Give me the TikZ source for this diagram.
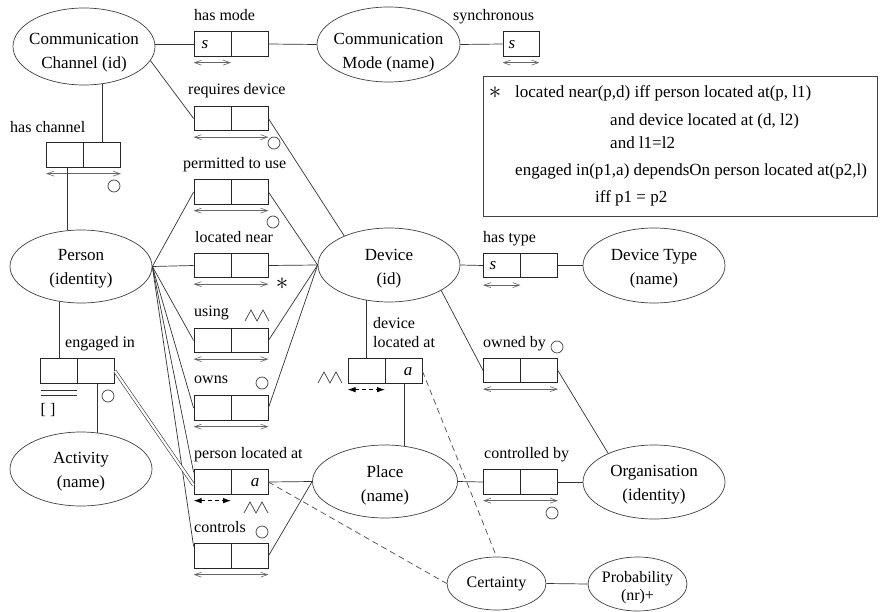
\documentclass[tikz,border=0pt]{standalone}
\usepackage{fontspec}
\setmainfont{Liberation Serif}
\usetikzlibrary{shapes.geometric,arrows.meta,calc}

\begin{document}
\begin{tikzpicture}[x=1pt,y=-1pt,
  ent/.style={ellipse,draw=black!75,line width=0.7pt,inner sep=0pt},
  enttxt/.style={inner sep=0pt,align=center,font=\fontsize{17}{24}\selectfont},
  smalltxt/.style={inner sep=0pt,align=center,font=\fontsize{16}{18}\selectfont},
  relbox/.style={draw=black!85,line width=0.8pt,minimum width=74pt,minimum height=24.5pt,inner sep=0pt,
     path picture={\draw[black!85,line width=0.8pt] (path picture bounding box.north) -- (path picture bounding box.south);}},
  unibox/.style={draw=black!85,line width=0.8pt,minimum width=36pt,minimum height=24.5pt,inner sep=0pt},
  lbl/.style={anchor=west,inner sep=0pt,text height=11pt,text depth=0pt,font=\fontsize{16}{19}\selectfont},
  lbltwo/.style={anchor=west,inner sep=0pt,align=left,font=\fontsize{16}{19}\selectfont},
  ctxt/.style={anchor=west,inner sep=0pt,text height=11.5pt,text depth=0pt,font=\fontsize{17}{20}\selectfont},
  celltxt/.style={inner sep=0pt,font=\fontsize{17}{20}\selectfont\itshape},
  ring/.style={circle,draw=black!75,line width=0.7pt,minimum size=12pt,inner sep=0pt},
  startxt/.style={inner sep=0pt,font=\fontsize{27}{27}\selectfont},
  conn/.style={draw=black!80,line width=0.7pt},
  dconn/.style={draw=black!70,line width=0.7pt,dash pattern=on 6pt off 4pt},
  dbl/.style={draw=black!80,line width=0.6pt,double,double distance=2.2pt},
  uarr/.style={draw=black!60,line width=0.6pt,{Straight Barb[length=7pt,width=5pt]}-{Straight Barb[length=7pt,width=5pt]}},
  darr/.style={draw=black,line width=0.8pt,dash pattern=on 4pt off 3pt,{Latex[length=8pt,width=5.5pt]}-{Latex[length=8pt,width=5.5pt]}},
  zz/.pic={\draw[black!75,line width=0.7pt] (0,0) -- (6,-11) -- (12,0) -- (18,-11) -- (24,0);}
]
\useasboundingbox (0,0) rectangle (880,612);
\fill[white] (0,0) rectangle (880,612);

% entity types
\node[ent,minimum width=142pt,minimum height=77pt] (cc) at (84,46.5) {};
\node[enttxt] (cc-t) at (84,52.6) {Communication\\Channel (id)};
\node[ent,minimum width=143pt,minimum height=75pt] (cm) at (388.5,44.5) {};
\node[enttxt] (cm-t) at (388.5,52.6) {Communication\\Mode (name)};
\node[ent,minimum width=142pt,minimum height=73pt] (person) at (81,266.5) {};
\node[enttxt] (person-t) at (81,269) {Person\\(identity)};
\node[ent,minimum width=142pt,minimum height=74pt] (dev) at (389,265) {};
\node[enttxt] (dev-t) at (389,269) {Device\\(id)};
\node[ent,minimum width=142pt,minimum height=75pt] (dt) at (654,265.5) {};
\node[enttxt] (dt-t) at (654,269) {Device Type\\(name)};
\node[ent,minimum width=142pt,minimum height=74pt] (act) at (81,469) {};
\node[enttxt] (act-t) at (81,471.6) {Activity\\(name)};
\node[ent,minimum width=145pt,minimum height=73pt] (place) at (385,481.5) {};
\node[enttxt] (place-t) at (385,485) {Place\\(name)};
\node[ent,minimum width=142pt,minimum height=74pt] (org) at (654,482) {};
\node[enttxt] (org-t) at (654,485) {Organisation\\(identity)};
\node[ent,minimum width=99pt,minimum height=53pt] (cert) at (496.5,583.5) {};
\node[smalltxt] (cert-t) at (496.5,584) {Certainty};
\node[ent,minimum width=99pt,minimum height=54pt] (prob) at (637.5,584) {};
\node[smalltxt] (prob-t) at (637.5,587.7) {Probability\\(nr)+};

% fact types
\node[relbox] (hm) at (231,44) {};
\node[unibox] (sy) at (521,44) {};
\node[relbox] (rd) at (231,118.5) {};
\node[relbox] (hc) at (83.5,155) {};
\node[relbox] (pu) at (231,192) {};
\node[relbox] (ln) at (231,265.5) {};
\node[relbox] (us) at (231,340.5) {};
\node[relbox] (ow) at (231,408) {};
\node[relbox] (pl) at (231,482) {};
\node[relbox] (co) at (231,556) {};
\node[relbox] (ei) at (77.5,371) {};
\node[relbox] (dl) at (385,371) {};
\node[relbox] (ht) at (520.5,265.5) {};
\node[relbox] (ob) at (520.5,370.5) {};
\node[relbox] (cb) at (520.5,482) {};

% fact type readings
\node[lbl] (l-hm) at (194,15) {has mode};
\node[lbl] (l-sy) at (453,15) {synchronous};
\node[lbl] (l-rd) at (188,89) {requires device};
\node[lbl] (l-hc) at (10,127) {has channel};
\node[lbl] (l-pu) at (183,163) {permitted to use};
\node[lbl] (l-ln) at (195,237) {located near};
\node[lbl] (l-us) at (194,311) {using};
\node[lbl] (l-ow) at (194,378) {owns};
\node[lbl] (l-pl) at (194,453) {person located at};
\node[lbl] (l-co) at (194,527) {controls};
\node[lbl] (l-ei) at (65,342) {engaged in};
\node[lbltwo] (l-dl) at (373,332.5) {device\\located at};
\node[lbl] (l-ht) at (483,237) {has type};
\node[lbl] (l-ob) at (483,342) {owned by};
\node[lbl] (l-cb) at (484,453) {controlled by};

% role contents
\node[celltxt] (s-hm) at (205,45) {s};
\node[celltxt] (s-sy) at (512,45) {s};
\node[celltxt] (s-ht) at (493,266) {s};
\node[celltxt] (a-pl) at (255,483) {a};
\node[celltxt] (a-dl) at (408,372) {a};

% uniqueness constraints
\draw[uarr] ($(hm.south west)+(0,6)$) -- ($(hm.south)+(0,6)$);
\draw[uarr] ($(sy.south west)+(0,6)$) -- ($(sy.south east)+(0,6)$);
\draw[uarr] ($(ht.south west)+(0,7)$) -- ($(ht.south)+(0,7)$);
\foreach \b in {rd,hc,pu,ln,us,ow,co,ob,cb}
  \draw[uarr] ($(\b.south west)+(0,6)$) -- ($(\b.south east)+(0,6)$);
\draw[darr] ($(pl.south west)+(0,6)$) -- ($(pl.south)+(0,6)$);
\draw[darr] ($(dl.south west)+(0,6)$) -- ($(dl.south)+(0,6)$);

% other constraint marks
\node[ring] (o-rd) at (274,143) {};
\node[ring] (o-hc) at (114,186) {};
\node[ring] (o-pu) at (273,222) {};
\node[ring] (o-ow) at (262,383) {};
\node[ring] (o-co) at (262,532) {};
\node[ring] (o-ei) at (108,396) {};
\node[ring] (o-ob) at (557,347) {};
\node[ring] (o-cb) at (552,513) {};
\node[startxt] (st-ln) at (282,284) {$\ast$};
\pic at (245,321) {zz};
\pic at (244,513) {zz};
\pic at (318,383) {zz};
\draw[black!80,line width=0.7pt] (41,390) -- (77,390) (41,395) -- (77,395);
\node[inner sep=0pt,font=\fontsize{16}{19}\selectfont] (br-ei) at (48,410) {[ ]};

% connectors
\draw[conn] (hm.west -| cc.east) -- (hm.west);
\draw[conn] (hm.east) -- (cm.west);
\draw[conn] (cm.east) -- (sy.west);
\draw[conn] (cc.-12) -- (rd.west);
\draw[conn] (rd.east) -- (dev.147);
\draw[conn] (cc.-64) -- (cc.-64 |- hc.north);
\draw[conn] (person.111) -- (person.111 |- hc.south);
\draw[conn] (person.east) -- (pu.west);
\draw[conn] (person.east) -- (ln.west);
\draw[conn] (person.east) -- (us.west);
\draw[conn] (person.east) -- (ow.west);
\draw[conn] (person.east) -- ($(pl.north west)+(0,3)$);
\draw[conn] (person.east) -- ($(co.north west)+(0,3)$);
\draw[conn] (pu.east) -- (dev.west);
\draw[conn] (ln.east) -- (dev.west);
\draw[conn] (us.east) -- (dev.west);
\draw[conn] (ow.east) -- (dev.west);
\draw[conn] (dev.-122) -- (dev.-122 |- dl.north);
\draw[conn] (place.62) -- (place.62 |- dl.south);
\draw[conn] (pl.east) -- (place.west);
\draw[conn] (co.east) -- (place.west);
\draw[dconn] (pl.east) -- (cert.west);
\draw[dconn] (dl.east) -- (cert.north);
\draw[conn] (person.-122) -- (person.-122 |- ei.north);
\draw[conn] (act.66) -- (act.66 |- ei.south);
\draw[dbl] (ei.east) -- ($(pl.west)+(0,3)$);
\draw[conn] (dev.east) -- (ht.west);
\draw[conn] (ht.east) -- (dt.west);
\draw[conn] (dev.-26) -- (ob.west);
\draw[conn] (ob.east) -- (org.148);
\draw[conn] (place.east) -- (cb.west);
\draw[conn] (cb.east) -- (org.west);
\draw[conn] (cert.east) -- (prob.west);

% textual constraints
\node[draw=black!75,line width=0.8pt,minimum width=394pt,minimum height=140pt,inner sep=0pt] (note) at (680,146) {};
\node[startxt] (st-note) at (495,93) {$\ast$};
\node[ctxt] (n1) at (515,92) {located near(p,d) iff person located at(p, l1)};
\node[ctxt] (n2) at (610,120) {and device located at (d, l2)};
\node[ctxt] (n3) at (610,143) {and l1=l2};
\node[ctxt] (n4) at (515,170) {engaged in(p1,a) dependsOn person located at(p2,l)};
\node[ctxt] (n5) at (595,197) {iff p1 = p2};
\end{tikzpicture}
\end{document}
